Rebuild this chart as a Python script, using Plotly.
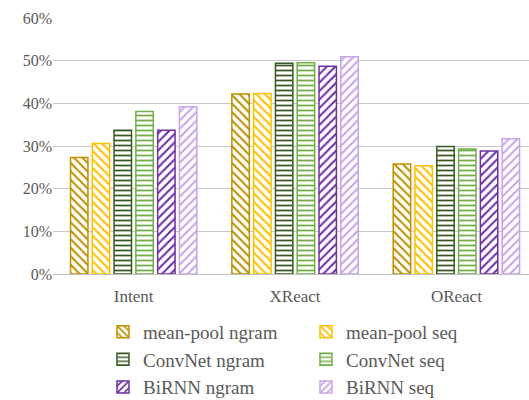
import plotly.graph_objects as go

categories = ["Intent", "XReact", "OReact"]
series_names = ["mean-pool ngram", "mean-pool seq", "ConvNet ngram", "ConvNet seq", "BiRNN ngram", "BiRNN seq"]
mean_pool_ngram = [0.273, 0.422, 0.258]
mean_pool_seq = [0.306, 0.423, 0.254]
convnet_ngram = [0.337, 0.494, 0.299]
convnet_seq = [0.381, 0.495, 0.293]
birnn_ngram = [0.337, 0.487, 0.288]
birnn_seq = [0.392, 0.509, 0.317]
tick_vals = [0, 0.1, 0.2, 0.3, 0.4, 0.5, 0.6]
tick_text = ["0%", "10%", "20%", "30%", "40%", "50%", "60%"]

values = [mean_pool_ngram, mean_pool_seq, convnet_ngram, convnet_seq, birnn_ngram, birnn_seq]
colors = ["#BF9000", "#FFC000", "#385723", "#70AD47", "#7030A0", "#C9A3E8"]
shapes = ["\\", "\\", "-", "-", "/", "/"]

fig = go.Figure()
for name, vals, col, shp in zip(series_names, values, colors, shapes):
    fig.add_trace(go.Bar(
        name=name, x=categories, y=vals,
        marker=dict(
            color="white",
            line=dict(color=col, width=1.5),
            pattern=dict(shape=shp, fgcolor=col, bgcolor="white", size=6 if shp != "-" else 5,
                         solidity=0.35, fillmode="replace"),
        ),
    ))

fig.update_layout(
    width=529, height=400,
    margin=dict(l=53, r=0, t=18, b=126, autoexpand=False),
    paper_bgcolor="white", plot_bgcolor="white",
    barmode="group", bargap=0.19, bargroupgap=0.2,
    font=dict(family="Liberation Serif, Times New Roman, serif", color="#595959", size=15),
    xaxis=dict(range=[-0.5, 2.45], showline=True, linecolor="#BFBFBF", linewidth=1,
               ticks="", tickfont=dict(size=17), automargin=False, ticklabelstandoff=7),
    yaxis=dict(range=[0, 0.6], tickvals=tick_vals, ticktext=tick_text, showgrid=True,
               gridcolor="#C8C8C8", gridwidth=1, zeroline=False, ticks="", tickfont=dict(size=16),
               automargin=False),
    legend=dict(orientation="h", x=0.105, xref="paper", y=0.218, yref="container",
                xanchor="left", yanchor="top",
                entrywidth=158, entrywidthmode="pixels", font=dict(size=19),
                itemwidth=30, tracegroupgap=0),
    showlegend=True,
)
fig.write_html("out.html", config={"displayModeBar": False},
               post_script="document.body.style.margin='0';")
